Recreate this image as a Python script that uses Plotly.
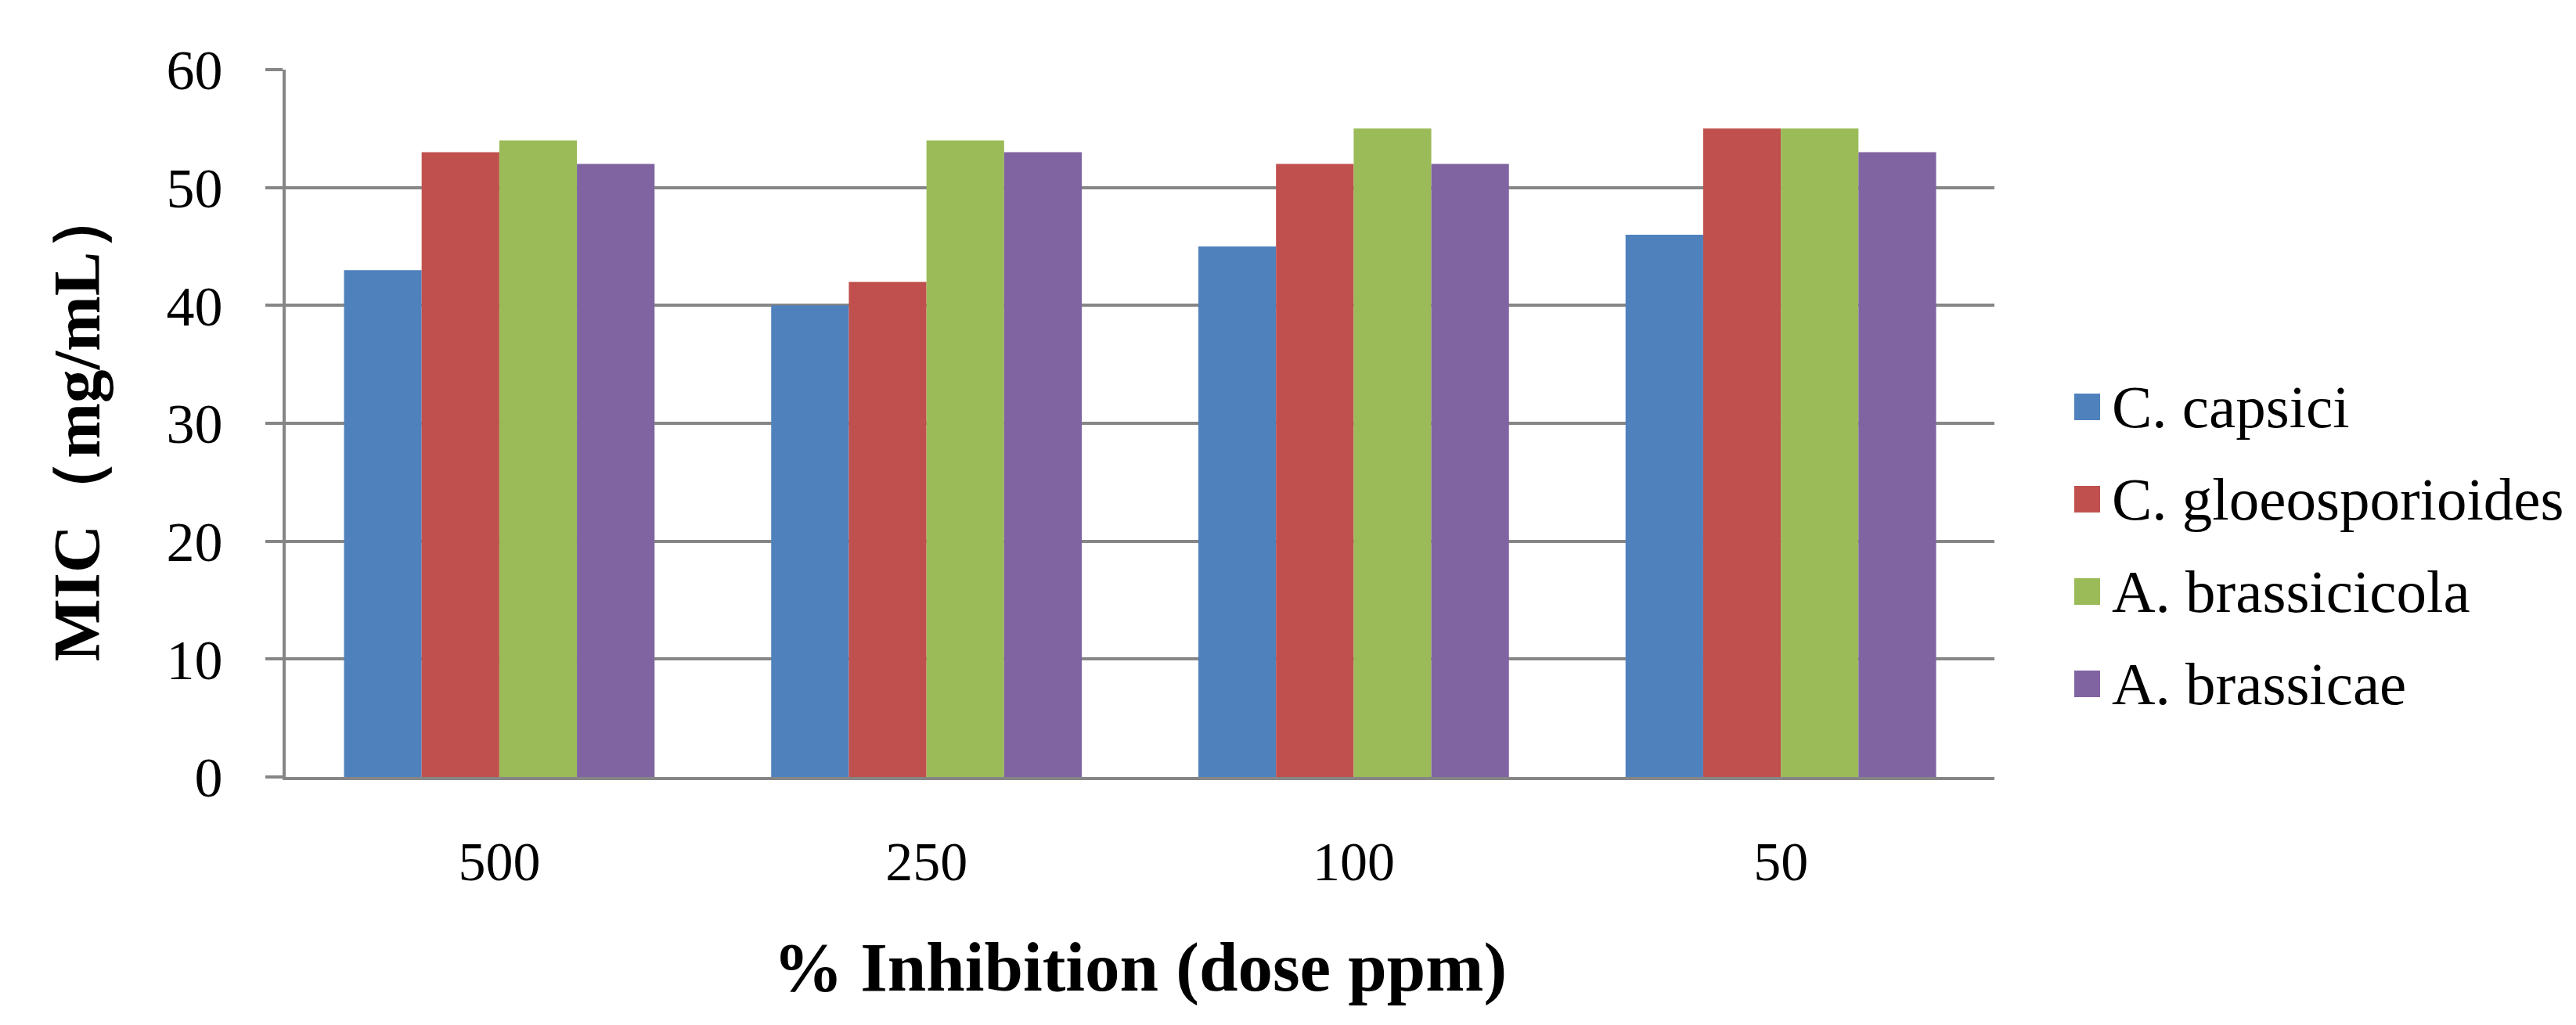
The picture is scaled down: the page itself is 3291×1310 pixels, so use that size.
import plotly.graph_objects as go

categories = ["500", "250", "100", "50"]
series_names = ["C. capsici", "C. gloeosporioides", "A. brassicicola", "A. brassicae"]
c_capsici = [43, 40, 45, 46]
c_gloeosporioides = [53, 42, 52, 55]
a_brassicicola = [54, 54, 55, 55]
a_brassicae = [52, 53, 52, 53]
colors = ["#4F81BD", "#C0504D", "#9BBB59", "#8064A2"]
y_ticks = [0, 10, 20, 30, 40, 50, 60]

series_values = [c_capsici, c_gloeosporioides, a_brassicicola, a_brassicae]

W, H = 3291, 1310
L, R, T, B = 357, 2540, 81, 985
FONT = "Liberation Serif, Times New Roman, serif"
GRID = "#868686"

fig = go.Figure()
for name, vals, col in zip(series_names, series_values, colors):
    fig.add_trace(go.Bar(x=categories, y=vals, name=name,
                         marker=dict(color=col, line=dict(width=0)),
                         showlegend=False))

# custom legend (large squares like the reference)
pw, ph = R - L, B - T
def px_x(px):
    return (px - L) / pw
def px_y(py):
    return (B - py) / ph

shapes = []
annotations = []
row0, step = 512, 118
for i, (name, col) in enumerate(zip(series_names, colors)):
    cy = row0 + i * step
    shapes.append(dict(type="rect", xref="paper", yref="paper",
                       x0=px_x(2642), x1=px_x(2675),
                       y0=px_y(cy + 17), y1=px_y(cy - 17),
                       fillcolor=col, line=dict(width=0)))
    annotations.append(dict(xref="paper", yref="paper", x=px_x(2688), y=px_y(cy),
                            text=name, showarrow=False, xanchor="left", yanchor="middle",
                            font=dict(family=FONT, size=77, color="black")))

fig.update_layout(
    width=W, height=H,
    margin=dict(l=L, r=W - R, t=T, b=H - B, pad=0),
    paper_bgcolor="white", plot_bgcolor="white",
    barmode="group", bargap=0.273, bargroupgap=0,
    shapes=shapes, annotations=annotations,
    font=dict(family=FONT, color="black"),
)
fig.update_yaxes(range=[0, 60], tickvals=y_ticks,
                 showgrid=True, gridcolor=GRID, gridwidth=4,
                 showline=True, linecolor=GRID, linewidth=4,
                 ticks="outside", ticklen=22, tickwidth=4, tickcolor=GRID,
                 ticklabelstandoff=40,
                 tickfont=dict(family=FONT, size=72, color="black"),
                 zeroline=False,
                 title=dict(text="MIC（mg/mL）", standoff=58,
                            font=dict(family=FONT, size=85, color="black", weight="bold")))
fig.update_xaxes(showline=True, linecolor=GRID, linewidth=4,
                 ticks="", ticklabelstandoff=44,
                 tickfont=dict(family=FONT, size=70, color="black"),
                 title=dict(text="% Inhibition (dose ppm)", standoff=66,
                            font=dict(family=FONT, size=89, color="black", weight="bold")))

fig.write_html("out.html")
